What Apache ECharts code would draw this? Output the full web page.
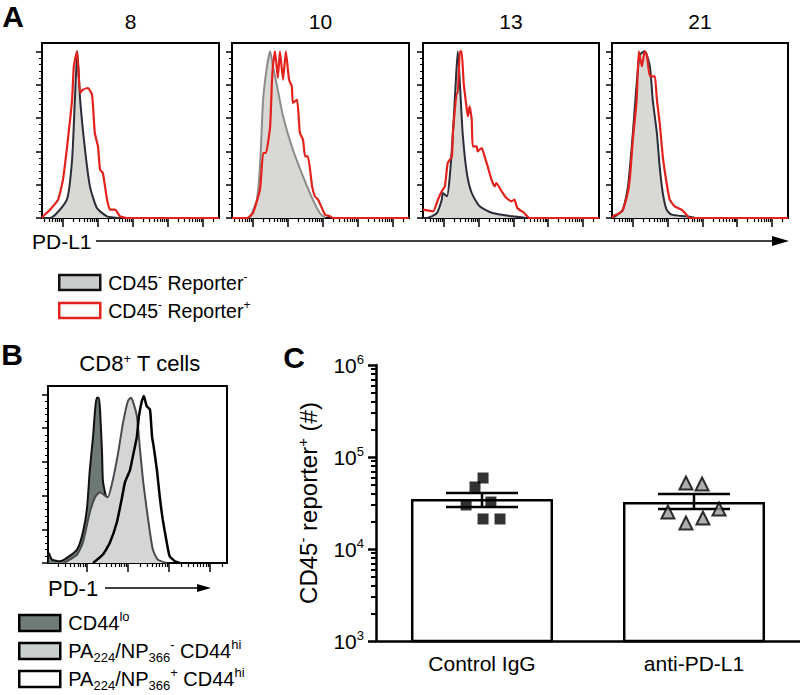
<!DOCTYPE html>
<html>
<head>
<meta charset="utf-8">
<script src="https://cdn.jsdelivr.net/npm/echarts@6/dist/echarts.min.js"></script>
<style>
  html, body { margin: 0; background: #fff; }
  #chart { width: 800px; height: 695px; }
</style>
</head>
<body>
<div id="chart"></div>
<script>
// ---- panel A: PD-L1 histograms, x = log10 intensity, y = % of max ----
const days = ['8', '10', '13', '21'];

const neg8 = [[0.4,0],[0.63,0],[1.11,11],[1.26,35],[1.34,71],[1.41,100],[1.49,71],[1.63,41],[1.77,19],[1.97,6],[2.26,1],[2.63,0]];
const pos8 = [[0.4,0],[0.43,1],[0.63,5],[0.86,11],[1.0,23],[1.14,47],[1.26,71],[1.31,91],[1.40,100],[1.49,75],[1.57,77],[1.71,78],[1.83,74],[1.91,51],[2.0,43],[2.06,29],[2.14,27],[2.26,11],[2.34,5],[2.49,5],[2.63,1],[2.83,0],[5.46,0]];

const neg10 = [[0.91,0],[1.11,11],[1.2,31],[1.29,71],[1.4,91],[1.49,100],[1.57,91],[1.69,79],[1.86,61],[2.14,41],[2.43,25],[2.71,11],[2.91,3],[3.06,0]];
const pos10 = [[0.4,0],[0.83,0],[1.0,3],[1.2,17],[1.29,39],[1.37,39],[1.49,55],[1.54,81],[1.57,91],[1.63,100],[1.71,84],[1.77,100],[1.86,83],[1.94,100],[2.03,83],[2.11,79],[2.14,69],[2.26,71],[2.34,51],[2.43,47],[2.49,37],[2.57,37],[2.69,19],[2.77,13],[2.86,11],[2.97,6],[3.06,2],[3.2,1],[3.29,0],[5.46,0]];

const neg13 = [[0.4,0],[0.51,0],[0.8,3],[0.94,11],[0.97,15],[1.09,13],[1.17,25],[1.26,51],[1.34,81],[1.4,100],[1.46,81],[1.54,51],[1.66,27],[1.8,15],[2.03,7],[2.4,3],[2.97,1],[3.37,0]];
const pos13 = [[0.4,5],[0.69,4],[0.83,11],[0.94,16],[1.03,19],[1.11,33],[1.23,37],[1.26,51],[1.37,75],[1.4,75],[1.46,100],[1.51,100],[1.57,81],[1.66,65],[1.69,61],[1.74,67],[1.8,59],[1.83,43],[1.94,43],[1.97,40],[2.09,42],[2.17,37],[2.26,31],[2.37,23],[2.46,19],[2.51,21],[2.66,16],[2.8,12],[2.94,10],[3.03,11],[3.11,6],[3.31,3],[3.46,0],[5.46,0]];

const neg21 = [[0.4,0],[0.49,1],[0.71,5],[0.86,19],[1.0,51],[1.11,81],[1.2,98],[1.34,100],[1.49,91],[1.57,71],[1.69,51],[1.77,31],[1.86,15],[1.97,5],[2.11,2],[2.54,1],[2.8,0]];
const pos21 = [[0.4,0],[0.43,1],[0.69,4],[0.83,13],[0.91,23],[1.0,47],[1.11,71],[1.17,100],[1.26,91],[1.34,100],[1.4,98],[1.49,85],[1.63,85],[1.69,71],[1.77,57],[1.86,37],[1.97,21],[2.06,11],[2.2,7],[2.4,5],[2.54,2],[2.63,0],[5.46,0]];

// ---- panel B: PD-1 on CD8+ T cells ----
const cd44lo = [[1.07,6],[1.15,2],[1.34,1],[1.51,3],[1.76,8],[1.9,18],[2.0,32],[2.07,55],[2.15,75],[2.2,91],[2.24,98],[2.29,98],[2.32,91],[2.37,65],[2.39,49],[2.46,40],[2.56,32],[2.68,20],[2.85,8],[3.05,2],[3.29,0]];
const tetNeg = [[1.44,0],[1.51,1],[1.76,5],[1.9,12],[2.07,30],[2.2,39],[2.32,42],[2.44,40],[2.51,39],[2.63,49],[2.76,65],[2.88,83],[3.0,96],[3.07,98],[3.12,96],[3.22,87],[3.29,69],[3.37,49],[3.46,32],[3.54,18],[3.61,8],[3.73,2],[3.95,0]];
const tetPos = [[2.15,0],[2.39,5],[2.56,12],[2.73,24],[2.85,38],[2.93,48],[3.05,55],[3.12,63],[3.22,75],[3.27,87],[3.34,96],[3.39,99],[3.46,93],[3.54,91],[3.59,75],[3.63,69],[3.71,55],[3.78,39],[3.85,26],[3.95,12],[4.02,4],[4.15,1],[4.27,0]];

// ---- panel C: CD45- reporter+ counts ----
const groups = ['Control IgG', 'anti-PD-L1'];
const groupMean = [34900, 32400];
const semLow = [28600, 27200];
const semHigh = [40600, 39600];
const controlCounts = [59100, 47200, 30100, 32400, 21200, 21200];
const controlJitter = [0.505, 0.467, 0.425, 0.542, 0.505, 0.585];
const antiCounts = [52100, 50900, 25200, 27200, 21700, 19200];
const antiJitter = [1.462, 1.538, 1.377, 1.618, 1.542, 1.462];
const decades = [3, 4, 5, 6];

const FONT = 'Liberation Sans, Arial, Helvetica, sans-serif';
const RED = '#e3211d';
function supRich(size) {
  return {
    sup: { fontSize: size, verticalAlign: 'top', lineHeight: size + 1, fontFamily: FONT, color: '#000' },
    sub: { fontSize: size, verticalAlign: 'bottom', lineHeight: size + 1, fontFamily: FONT, color: '#000' }
  };
}

function logMinor(from, to) {
  const out = [];
  for (let n = Math.floor(from); n < to; n++) {
    for (let k = 2; k <= 9; k++) {
      const v = n + Math.log10(k);
      if (v > from && v < to) out.push(v);
    }
  }
  return out;
}
function range(a, b, step) {
  const out = [];
  for (let v = a; v <= b + 1e-9; v += step) out.push(+v.toFixed(4));
  return out;
}

const grid = [];
const xAxis = [];
const yAxis = [];
const series = [];

// histogram grid with two tick axes each way (major + minor)
function addHistGrid(box, xMin, xMax) {
  const gi = grid.length;
  grid.push({ left: box[0], top: box[1], width: box[2], height: box[3], show: true,
    borderColor: '#000', borderWidth: 2, backgroundColor: 'transparent' });
  const base = { gridIndex: gi, type: 'value', min: xMin, max: xMax, position: 'bottom',
    axisLine: { show: false, onZero: false }, axisLabel: { show: false }, splitLine: { show: false } };
  const majX = range(Math.ceil(xMin), Math.floor(xMax), 1);
  xAxis.push(Object.assign({}, base, { axisTick: { customValues: majX, length: 9, lineStyle: { color: '#000', width: 1.5 } } }));
  xAxis.push(Object.assign({}, base, { axisTick: { customValues: logMinor(xMin, xMax), length: 4, lineStyle: { color: '#000', width: 1.2 } } }));
  const yBase = { gridIndex: gi, type: 'value', min: 0, max: 105, position: 'left',
    axisLine: { show: false, onZero: false }, axisLabel: { show: false }, splitLine: { show: false } };
  yAxis.push(Object.assign({}, yBase, { axisTick: { customValues: range(0, 100, 20), length: 6, lineStyle: { color: '#000', width: 1.5 } } }));
  yAxis.push(Object.assign({}, yBase, { axisTick: { customValues: range(0, 100, 4).filter(v => v % 20 !== 0), length: 3, lineStyle: { color: '#000', width: 1 } } }));
  return 2 * gi;
}

// panel A
const boxesA = [[42, 43, 177, 175], [232, 43, 177, 175], [423, 43, 176, 175], [612, 43, 176, 175]];
const negSets = [neg8, neg10, neg13, neg21];
const posSets = [pos8, pos10, pos13, pos21];
const negLine = ['#2a2e38', '#8c8c8c', '#2a2e38', '#2a2e38'];
boxesA.forEach((box, i) => {
  const ax = addHistGrid(box, 0.4, 5.46);
  series.push({ name: 'CD45- Reporter-', type: 'line', xAxisIndex: ax, yAxisIndex: ax, data: negSets[i],
    symbol: 'none', smooth: 0.2, clip: false, z: 2,
    lineStyle: { color: negLine[i], width: 2 }, itemStyle: { color: '#d8d9d4' },
    areaStyle: { color: '#d8d9d4', opacity: 1 } });
  series.push({ name: 'CD45- Reporter+', type: 'line', xAxisIndex: ax, yAxisIndex: ax, data: posSets[i],
    symbol: 'none', smooth: 0.15, clip: false, z: 3,
    lineStyle: { color: RED, width: 2.2 }, itemStyle: { color: RED } });
});

// panel B
const axB = addHistGrid([48, 386, 179, 177], 1.05, 5.42);
series.push({ name: 'CD44lo', type: 'line', xAxisIndex: axB, yAxisIndex: axB, data: cd44lo,
  symbol: 'none', smooth: 0.2, clip: false, z: 2,
  lineStyle: { color: '#111', width: 2 }, itemStyle: { color: '#6e7976' },
  areaStyle: { color: '#6e7976', opacity: 1 } });
series.push({ name: 'PA-NP- CD44hi', type: 'line', xAxisIndex: axB, yAxisIndex: axB, data: tetNeg,
  symbol: 'none', smooth: 0.2, clip: false, z: 3,
  lineStyle: { color: '#4a4b50', width: 2 }, itemStyle: { color: '#d3d6d2' },
  areaStyle: { color: '#d3d6d2', opacity: 1 } });
series.push({ name: 'PA+NP+ CD44hi', type: 'line', xAxisIndex: axB, yAxisIndex: axB, data: tetPos,
  symbol: 'none', smooth: 0.15, clip: false, z: 4,
  lineStyle: { color: '#000', width: 2.5 }, itemStyle: { color: '#fff' } });

// panel C
const gC = grid.length;
grid.push({ left: 376, right: 0, top: 365, bottom: 54 });
const cx = xAxis.length;
xAxis.push({ gridIndex: gC, type: 'category', data: groups, position: 'bottom',
  axisLine: { onZero: false, lineStyle: { color: '#000', width: 2.5 } },
  axisTick: { alignWithLabel: true, length: 9, lineStyle: { color: '#000', width: 2.5 } },
  axisLabel: { color: '#000', fontSize: 21, fontFamily: FONT, margin: 12 } });
xAxis.push({ gridIndex: gC, type: 'value', min: 0, max: 2, show: false });
const cy = yAxis.length;
yAxis.push({ gridIndex: gC, type: 'value', min: 3, max: 6, position: 'left',
  name: 'CD45{sup|-} reporter{sup|+} (#)', nameLocation: 'middle', nameGap: 48, nameRotate: 90,
  nameTextStyle: { color: '#000', fontSize: 24, fontFamily: FONT, lineHeight: 28, rich: supRich(15) },
  axisLine: { show: true, onZero: false, lineStyle: { color: '#000', width: 2.5 } },
  axisTick: { customValues: decades, length: 8, lineStyle: { color: '#000', width: 2.5 } },
  axisLabel: { customValues: decades, formatter: v => '10{sup|' + v + '}', color: '#000',
    fontSize: 21, fontFamily: FONT, lineHeight: 24, margin: 12, rich: supRich(13) },
  splitLine: { show: false } });
yAxis.push({ gridIndex: gC, type: 'value', min: 3, max: 6, position: 'left',
  axisLine: { show: false, onZero: false }, axisLabel: { show: false }, splitLine: { show: false },
  axisTick: { customValues: logMinor(3, 6), length: 5, lineStyle: { color: '#000', width: 2 } } });

series.push({ type: 'bar', xAxisIndex: cx, yAxisIndex: cy, data: groupMean.map(Math.log10),
  barWidth: '67%', z: 2,
  itemStyle: { color: '#fff', borderColor: '#000', borderWidth: 2.5 } });
series.push({ type: 'custom', xAxisIndex: cx, yAxisIndex: cy, z: 3,
  data: groups.map((g, i) => [i, Math.log10(semLow[i]), Math.log10(semHigh[i])]),
  renderItem: (params, api) => {
    const lo = api.coord([api.value(0), api.value(1)]);
    const hi = api.coord([api.value(0), api.value(2)]);
    const half = 36;
    const style = { stroke: '#000', lineWidth: 2.5 };
    return { type: 'group', children: [
      { type: 'line', shape: { x1: lo[0], y1: lo[1], x2: hi[0], y2: hi[1] }, style },
      { type: 'line', shape: { x1: hi[0] - half, y1: hi[1], x2: hi[0] + half, y2: hi[1] }, style },
      { type: 'line', shape: { x1: lo[0] - half, y1: lo[1], x2: lo[0] + half, y2: lo[1] }, style }
    ] };
  } });
series.push({ type: 'scatter', xAxisIndex: cx + 1, yAxisIndex: cy, z: 4,
  data: controlCounts.map((v, i) => [controlJitter[i], Math.log10(v)]),
  symbol: 'rect', symbolSize: 11, itemStyle: { color: '#000' } });
series.push({ type: 'scatter', xAxisIndex: cx + 1, yAxisIndex: cy, z: 4,
  data: antiCounts.map((v, i) => [antiJitter[i], Math.log10(v)]),
  symbol: 'triangle', symbolSize: 13, itemStyle: { color: '#9a9a9a', borderColor: '#000', borderWidth: 2 } });

// legend labels with super/subscripts
const legendLabels = {
  'CD45- Reporter-': 'CD45{sup|-} Reporter{sup|-}',
  'CD45- Reporter+': 'CD45{sup|-} Reporter{sup|+}',
  'CD44lo': 'CD44{sup|lo}',
  'PA-NP- CD44hi': 'PA{sub|224}/NP{sub|366}{sup|-} CD44{sup|hi}',
  'PA+NP+ CD44hi': 'PA{sub|224}/NP{sub|366}{sup|+} CD44{sup|hi}'
};

function text(x, y, str, size, extra) {
  return { type: 'text', x, y, silent: true,
    style: Object.assign({ text: str, fontSize: size, fontFamily: FONT, fill: '#000',
      align: 'center', verticalAlign: 'middle', textAlign: 'center', textVerticalAlign: 'middle' }, extra || {}) };
}

const graphic = [
  text(13, 16, 'A', 30, { fontWeight: 'bold' }),
  text(12, 354, 'B', 30, { fontWeight: 'bold' }),
  text(294, 357, 'C', 30, { fontWeight: 'bold' }),
  text(140, 363, 'CD8{sup|+} T cells', 22, { rich: supRich(13) }),
  text(32, 241, 'PD-L1', 21, { align: 'left', textAlign: 'left' }),
  { type: 'line', silent: true, shape: { x1: 96, y1: 241, x2: 778, y2: 241 }, style: { stroke: '#000', lineWidth: 1.5 } },
  { type: 'polygon', silent: true, shape: { points: [[772, 236], [789, 241], [772, 246]] }, style: { fill: '#000' } },
  text(48, 588, 'PD-1', 22, { align: 'left', textAlign: 'left' }),
  { type: 'line', silent: true, shape: { x1: 105, y1: 588, x2: 200, y2: 588 }, style: { stroke: '#000', lineWidth: 1.5 } },
  { type: 'polygon', silent: true, shape: { points: [[197, 584], [211, 588], [197, 592]] }, style: { fill: '#000' } }
];
days.forEach((d, i) => {
  const b = boxesA[i];
  graphic.push(text(b[0] + b[2] / 2, 21, d, 21));
});

const chart = echarts.init(document.getElementById('chart'), null, { renderer: 'svg' });
chart.setOption({
  animation: false,
  backgroundColor: '#fff',
  textStyle: { fontFamily: FONT, color: '#000' },
  grid, xAxis, yAxis, series, graphic,
  legend: [
    { left: 58, top: 271, orient: 'vertical', padding: 0, itemGap: 5, itemWidth: 41, itemHeight: 15,
      selectedMode: false, icon: 'rect',
      data: [
        { name: 'CD45- Reporter-', itemStyle: { color: '#c9cecb', borderColor: '#111', borderWidth: 2.5 } },
        { name: 'CD45- Reporter+', itemStyle: { color: '#fff', borderColor: RED, borderWidth: 2.5 } }
      ],
      formatter: n => legendLabels[n],
      textStyle: { color: '#000', fontSize: 19.5, fontFamily: FONT, lineHeight: 23, padding: [0, 0, 0, 3], rich: supRich(12) } },
    { left: 18, top: 610, orient: 'vertical', padding: 0, itemGap: 2, itemWidth: 41, itemHeight: 16,
      selectedMode: false, icon: 'rect',
      data: [
        { name: 'CD44lo', itemStyle: { color: '#6f7b78', borderColor: '#000', borderWidth: 2.5 } },
        { name: 'PA-NP- CD44hi', itemStyle: { color: '#c9cfcc', borderColor: '#000', borderWidth: 2.5 } },
        { name: 'PA+NP+ CD44hi', itemStyle: { color: '#fff', borderColor: '#000', borderWidth: 2.5 } }
      ],
      formatter: n => legendLabels[n],
      textStyle: { color: '#000', fontSize: 20, fontFamily: FONT, lineHeight: 26, padding: [0, 0, 0, 3], rich: supRich(13) } }
  ]
});
</script>
</body>
</html>
